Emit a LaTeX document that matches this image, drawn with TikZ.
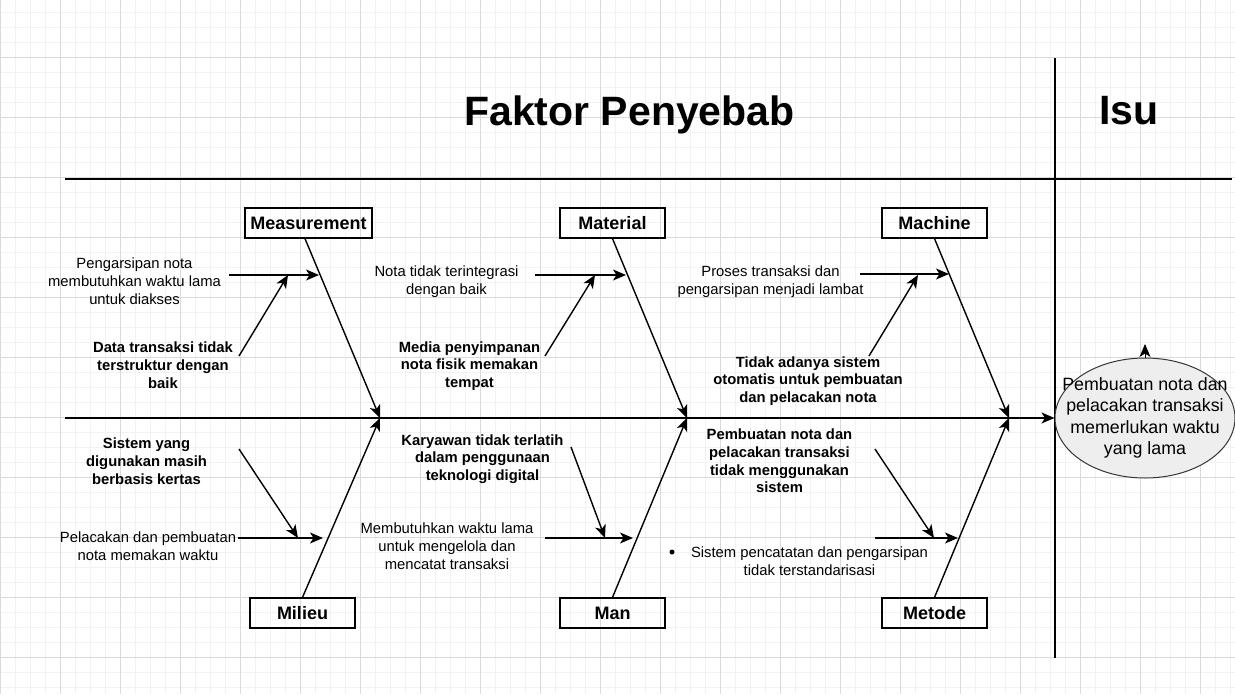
\documentclass[tikz,border=0pt]{standalone}
\usepackage{fontspec}
\setmainfont{Liberation Sans}
\usetikzlibrary{arrows.meta,shapes.geometric}
\definecolor{gmin}{HTML}{F2F2F2}
\definecolor{gmaj}{HTML}{DADADA}
\definecolor{ellfill}{HTML}{EEEEEE}
\definecolor{elldraw}{HTML}{363636}
\begin{document}
\begin{tikzpicture}[x=1pt,y=-1pt,
  cat/.style={draw,line width=1.3pt,minimum width=105pt,minimum height=30pt,inner sep=0pt,font=\fontsize{18}{20}\selectfont\bfseries},
  note/.style={align=center,inner sep=0pt,font=\fontsize{14.8}{17.8}\selectfont},
  bnote/.style={align=center,inner sep=0pt,font=\fontsize{14.8}{17.8}\selectfont\bfseries},
  ttl/.style={inner sep=0pt,anchor=base,font=\fontsize{41}{46}\selectfont\bfseries},
  arr/.style={line width=1.4pt,-{Stealth[length=13pt,width=11pt,inset=3.5pt]}},
  frame/.style={line width=1.6pt},
  gminor/.style={gmin,line width=0.8pt},
  gmajor/.style={gmaj,line width=0.8pt}]
\useasboundingbox (0,0) rectangle (1235,694);
\fill[white] (0,0) rectangle (1235,694);
% grid
\foreach \i in {0,...,82} \draw[gminor] (15*\i,0) -- (15*\i,694);
\foreach \j in {0,...,45} \draw[gminor] (0,12+15*\j) -- (1235,12+15*\j);
\foreach \i in {0,...,20} \draw[gmajor] (60*\i,0) -- (60*\i,694);
\foreach \j in {0,...,10} \draw[gmajor] (0,57+60*\j) -- (1235,57+60*\j);

% titles and frame
\node[ttl] (title) at (629.5,125) {Faktor Penyebab};
\node[ttl] (isut) at (1129,124) {Isu};
\coordinate (hl) at (65,179);
\coordinate (hr) at (1232,179);
\coordinate (vt) at (1055,58);
\coordinate (vb) at (1055,658);
\draw[frame] (hl) -- (hr);
\draw[frame] (vt) -- (vb);

% issue ellipse
\node[ellipse,draw=elldraw,fill=ellfill,line width=1pt,minimum width=180pt,minimum height=120pt,inner sep=0pt] (iss) at (1145,418) {};
\node[align=center,inner sep=0pt,font=\fontsize{17.8}{21.3}\selectfont] (isstxt) at (1145,418)
  {Pembuatan nota dan\\pelacakan transaksi\\memerlukan waktu\\yang lama};
\coordinate (up) at (1145,344);
\draw[arr,line width=1pt] (iss.north) -- (up);

% spine
\coordinate (sp0) at (65,418);
\coordinate (j1) at (380,418);
\coordinate (j2) at (687,418);
\coordinate (j3) at (1009,418);
\draw[arr,line width=1.6pt] (sp0) -- (iss.west);

% category boxes
\node[cat,minimum width=127pt] (meas) at (308.5,223) {Measurement};
\node[cat] (mat) at (612.5,223) {Material};
\node[cat] (mach) at (934.5,223) {Machine};
\node[cat] (mil) at (302.5,613) {Milieu};
\node[cat] (man) at (612.5,613) {Man};
\node[cat] (met) at (934.5,613) {Metode};

% bones
\draw[arr] ([xshift=-3.5pt]meas.south) -- (j1);
\draw[arr] (mat.south) -- (j2);
\draw[arr] (mach.south) -- (j3);
\draw[arr] (mil.north) -- (j1);
\draw[arr] (man.north) -- (j2);
\draw[arr] (met.north) -- (j3);

% texts
\node[note] (t1) at (134.5,281.5) {Pengarsipan nota\\membutuhkan waktu lama\\untuk diakses};
\node[bnote] (t2) at (163,365) {Data transaksi tidak\\terstruktur dengan\\baik};
\node[note] (t3) at (446.5,282) {Nota tidak terintegrasi\\dengan baik};
\node[bnote] (t4) at (469.5,366) {Media penyimpanan\\nota fisik memakan\\tempat};
\node[note] (t5) at (770.5,282) {Proses transaksi dan\\pengarsipan menjadi lambat};
\node[bnote] (t6) at (808,381) {Tidak adanya sistem\\otomatis untuk pembuatan\\dan pelacakan nota};
\node[bnote] (t7) at (146.5,461) {Sistem yang\\digunakan masih\\berbasis kertas};
\node[note] (t8) at (148,546) {Pelacakan dan pembuatan\\nota memakan waktu};
\node[bnote] (t9) at (482.5,459) {Karyawan tidak terlatih\\dalam penggunaan\\teknologi digital};
\node[note] (t10) at (447,546) {Membutuhkan waktu lama\\untuk mengelola dan\\mencatat transaksi};
\node[bnote] (t11) at (779.5,461) {Pembuatan nota dan\\pelacakan transaksi\\tidak menggunakan\\sistem};
\node[note] (t12) at (809.5,561) {Sistem pencatatan dan pengarsipan\\tidak terstandarisasi};
\node[circle,fill=black,inner sep=0pt,minimum size=5pt] (bul) at (672,552) {};

% sub-arrows: Measurement
\coordinate (a1s) at (229,275); \coordinate (a1e) at (319,275);
\coordinate (b1s) at (239,356); \coordinate (b1e) at (288,275);
\draw[arr] (a1s) -- (a1e);
\draw[arr] (b1s) -- (b1e);
% Material
\coordinate (a2s) at (535,275); \coordinate (a2e) at (626,275);
\coordinate (b2s) at (545,356); \coordinate (b2e) at (595,275);
\draw[arr] (a2s) -- (a2e);
\draw[arr] (b2s) -- (b2e);
% Machine
\coordinate (a3s) at (860,274); \coordinate (a3e) at (949,274);
\coordinate (b3s) at (869,356); \coordinate (b3e) at (918,275);
\draw[arr] (a3s) -- (a3e);
\draw[arr] (b3s) -- (b3e);
% Milieu
\coordinate (a4s) at (238,538); \coordinate (a4e) at (323,538);
\coordinate (b4s) at (239,449); \coordinate (b4e) at (298,538);
\draw[arr] (a4s) -- (a4e);
\draw[arr] (b4s) -- (b4e);
% Man
\coordinate (a5s) at (545,538); \coordinate (a5e) at (633,538);
\coordinate (b5s) at (571,447); \coordinate (b5e) at (605,538);
\draw[arr] (a5s) -- (a5e);
\draw[arr] (b5s) -- (b5e);
% Metode
\coordinate (a6s) at (875,538); \coordinate (a6e) at (958,538);
\coordinate (b6s) at (875,449); \coordinate (b6e) at (934,538);
\draw[arr] (a6s) -- (a6e);
\draw[arr] (b6s) -- (b6e);
\end{tikzpicture}
\end{document}
